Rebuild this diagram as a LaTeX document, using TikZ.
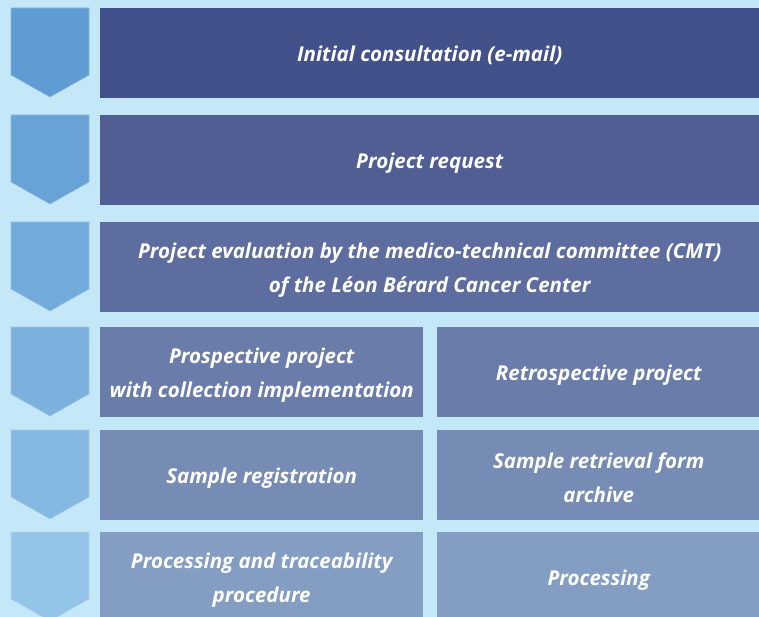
\documentclass[tikz,border=0pt]{standalone}
\usepackage{fontspec}
\setmainfont{Open Sans}
\usepackage{xcolor}
\definecolor{bgblue}{RGB}{197,232,248}
% box shades, dark to light
\definecolor{stepA}{RGB}{66,81,138}
\definecolor{stepB}{RGB}{80,94,148}
\definecolor{stepC}{RGB}{93,109,159}
\definecolor{stepD}{RGB}{106,125,170}
\definecolor{stepE}{RGB}{118,140,181}
\definecolor{stepF}{RGB}{131,158,194}
% chevron shades
\definecolor{chevA}{RGB}{94,156,211}
\definecolor{chevB}{RGB}{104,162,215}
\definecolor{chevC}{RGB}{114,170,219}
\definecolor{chevD}{RGB}{124,177,222}
\definecolor{chevE}{RGB}{133,185,226}
\definecolor{chevF}{RGB}{148,196,232}

\tikzset{
  stage/.style={fill=#1, minimum height=90pt, inner sep=0pt, anchor=north west},
  wide/.style={minimum width=659pt},
  half/.style={minimum width=323pt},
  caption/.style={text=white, align=center, inner sep=0pt, yshift=-2.5pt,
    font=\bfseries\itshape\fontsize{20.5}{34}\selectfont}
}

\begin{document}
\begin{tikzpicture}[x=1pt, y=-1pt]
  % Background
  \fill[bgblue] (0,0) rectangle (759,617);
  \useasboundingbox (0,0) rectangle (759,617);

  % Chevrons down the left side
  \foreach \y/\c in {8/chevA, 115/chevB, 222/chevC, 327/chevD, 430/chevE, 532/chevF} {
    \draw[fill=\c, draw=\c!75!white, line width=0.6pt]
      (11,\y) -- (89,\y) -- (89,\y+67) -- (50,\y+89) -- (11,\y+67) -- cycle;
  }

  % Single steps
  \node[stage=stepA, wide] (consult) at (100,8) {};
  \node[stage=stepB, wide] (request) at (100,115) {};
  \node[stage=stepC, wide] (cmt) at (100,222) {};

  % Prospective branch (left) and retrospective branch (right)
  \node[stage=stepD, half] (prosp) at (100,327) {};
  \node[stage=stepE, half] (register) at (100,430) {};
  \node[stage=stepF, half] (trace) at (100,532) {};
  \node[stage=stepD, half] (retro) at (437,327) {};
  \node[stage=stepE, half] (retrieve) at (437,430) {};
  \node[stage=stepF, half] (process) at (437,532) {};

  % Captions
  \node[caption] (consult-txt) at (consult) {Initial consultation (e-mail)};
  \node[caption] (request-txt) at (request) {Project request};
  \node[caption] (cmt-txt) at (cmt)
    {Project evaluation by the medico-technical committee (CMT)\\of the Léon Bérard Cancer Center};
  \node[caption] (prosp-txt) at (prosp) {Prospective project\\with collection implementation};
  \node[caption] (register-txt) at (register) {Sample registration};
  \node[caption] (trace-txt) at (trace) {Processing and traceability\\procedure};
  \node[caption] (retro-txt) at (retro) {Retrospective project};
  \node[caption] (retrieve-txt) at (retrieve) {Sample retrieval form\\archive};
  \node[caption] (process-txt) at (process) {Processing};
\end{tikzpicture}
\end{document}
